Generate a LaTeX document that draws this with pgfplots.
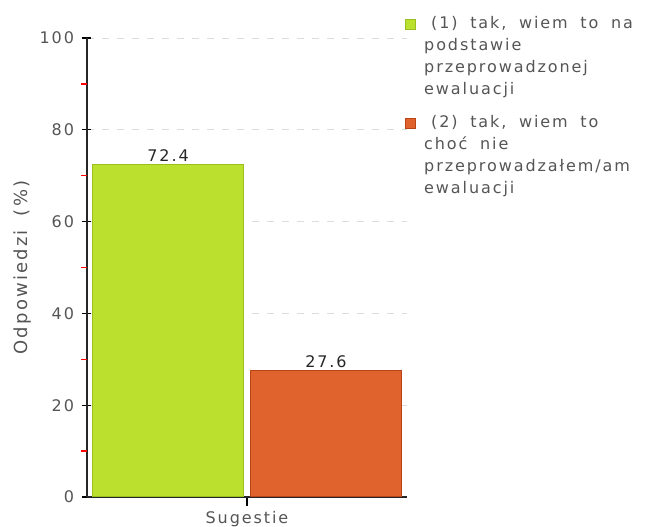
\documentclass[border=0pt]{standalone}
\usepackage{fontspec}
\setmainfont{DejaVu Sans}[LetterSpace=12, WordSpace=1.8]
\usepackage{pgfplots}
\pgfplotsset{compat=1.18}
\definecolor{barG}{HTML}{BCE02E}
\definecolor{barGd}{HTML}{98C020}
\definecolor{barO}{HTML}{E0622C}
\definecolor{barOd}{HTML}{B84418}
\definecolor{txt}{HTML}{555555}
\definecolor{gridc}{HTML}{DDDDDD}
\definecolor{tickred}{HTML}{FF0000}
\begin{document}
\begin{tikzpicture}
\path[use as bounding box] (-87pt,-30pt) rectangle (558pt,497pt);
\begin{axis}[
  at={(0pt,0pt)}, anchor=south west,
  scale only axis, width=320pt, height=459pt,
  xmin=-1.013, xmax=1.013, ymin=0, ymax=100,
  ybar, bar width=0.96, bar shift=0pt,
  axis lines*=left,
  axis line style={black!85, line width=1.2pt},
  xtick={0}, xticklabels={Sugestie},
  ytick={0,20,...,100},
  /pgf/number format/assume math mode=true,
  tick label style={font=\fontsize{16pt}{19pt}\selectfont, text=txt},
  x tick label style={yshift=-2pt},
  y tick label style={xshift=-5pt},
  major tick length=9pt,
  ytick align=center,
  xtick align=outside,
  major tick style={black, line width=1.2pt},
  ymajorgrids,
  major grid style={gridc, dash pattern=on 7pt off 8pt, line width=0.8pt},
  ylabel={Odpowiedzi (\%)},
  ylabel style={font=\fontsize{18pt}{20pt}\selectfont, text=txt, at={(axis description cs:-0.203,0.5)}, anchor=center, rotate=0},
  nodes near coords,
  every node near coord/.append style={font=\fontsize{16pt}{19pt}\selectfont, text=black!85, yshift=-1pt},
  legend style={at={(1,1)}, xshift=-5pt, yshift=26pt, anchor=north west, draw=none, fill=none,
    font=\fontsize{16pt}{22pt}\selectfont, text=txt, row sep=15pt, column sep=6pt,
    cells={align=left, anchor=north west}},
  legend image code/.code={\fill[#1] (0pt,-15pt) rectangle (10pt,-5pt);},
  clip=false,
]
\addplot[fill=barG, draw=barGd, line width=1pt] coordinates {(-0.5,72.4)};
\addplot[fill=barO, draw=barOd, line width=1pt] coordinates {(0.5,27.6)};
\legend{{\hspace*{7pt}(1) tak, wiem to na\\podstawie\\przeprowadzonej\\ewaluacji},{\hspace*{7pt}(2) tak, wiem to\\choć nie\\przeprowadzałem/am\\ewaluacji}}
\end{axis}
\begin{axis}[
  at={(0pt,0pt)}, anchor=south west,
  scale only axis, width=320pt, height=459pt,
  xmin=-1.013, xmax=1.013, ymin=0, ymax=100,
  hide x axis,
  axis y line*=left,
  y axis line style={draw=none},
  ytick={10,30,50,70,90}, yticklabels={},
  ytick align=outside,
  major tick length=6pt,
  every tick/.style={draw=tickred, line width=1.5pt},
  major tick style={draw=tickred, line width=1.5pt},
]
\end{axis}
\end{tikzpicture}
\end{document}
